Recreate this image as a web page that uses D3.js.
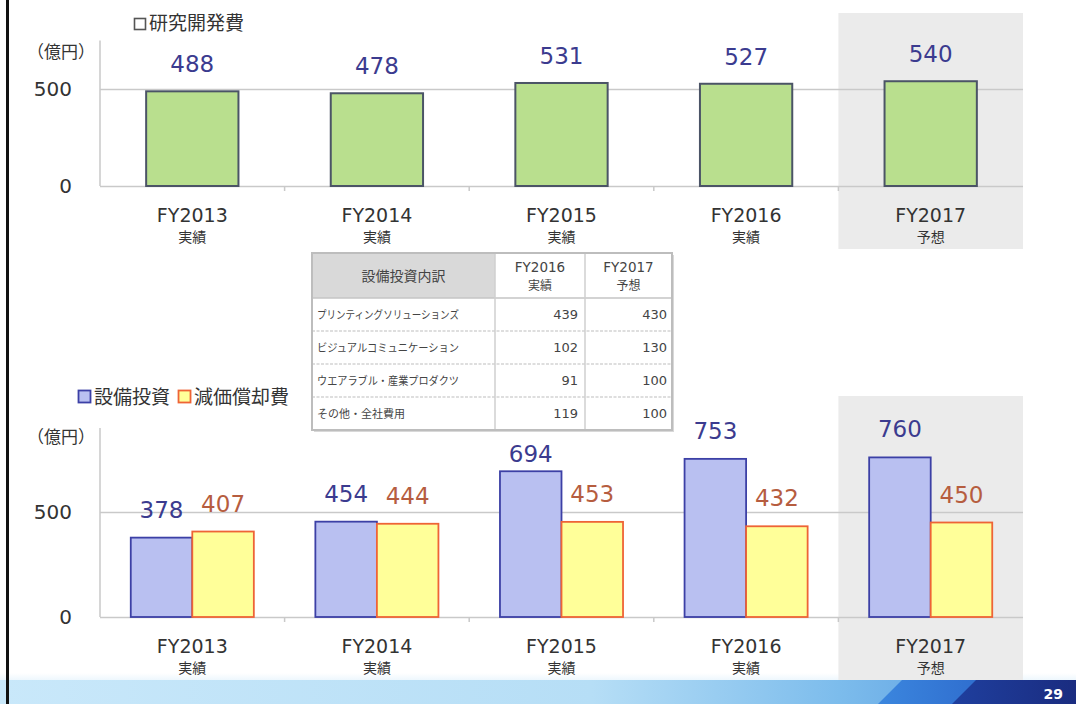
<!DOCTYPE html>
<html><head><meta charset="utf-8">
<script src="https://cdn.jsdelivr.net/npm/d3@7"></script>
<style>body{margin:0;background:#fff}svg{display:block}</style>
</head><body>
<svg id="c" width="1076" height="704"></svg>
<script>
// ---------- data ----------
const categories = ["FY2013","FY2014","FY2015","FY2016","FY2017"];
const periodLabels = ["実績","実績","実績","実績","予想"];
const rdValues = [488,478,531,527,540];
const capexValues = [378,454,694,753,760];
const deprValues = [407,444,453,432,450];
const yTicks = [0,500];
const tableRowNames = ["プリンティングソリューションズ","ビジュアルコミュニケーション","ウエアラブル・産業プロダクツ","その他・全社費用"];
const table2016 = [439,102,91,119];
const table2017 = [430,130,100,100];
const tableHeaders = [["FY2016","実績"],["FY2017","予想"]];
const tableTitle = "設備投資内訳";
const topTitle = "研究開発費";
const legendNames = ["設備投資","減価償却費"];
const unitLabel = "（億円）";
const pageNumber = "29";

// ---------- setup ----------
const LAT = "'DejaVu Sans', Verdana, sans-serif";
const JP = "'Noto Sans CJK JP', 'Noto Sans CJK SC', sans-serif";
const svg = d3.select("#c");
const TXT = "#333";
const GRID = "#c9c9c9";
const plotL = 100, plotR = 1023;

// defs
const defs = svg.append("defs");
const fg = defs.append("linearGradient").attr("id","foot").attr("x1","0").attr("x2","1");
[["0%","#c9e8fa"],["55%","#b6def6"],["78%","#7cbcec"],["100%","#4d8fdc"]].forEach(s=>fg.append("stop").attr("offset",s[0]).attr("stop-color",s[1]));
const fg2 = defs.append("linearGradient").attr("id","foot2").attr("x1","0").attr("x2","1");
[["0%","#3b86de"],["100%","#2457c0"]].forEach(s=>fg2.append("stop").attr("offset",s[0]).attr("stop-color",s[1]));
const fg3 = defs.append("linearGradient").attr("id","foot3").attr("x1","0").attr("x2","1");
[["0%","#1f3f9e"],["100%","#1a2c80"]].forEach(s=>fg3.append("stop").attr("offset",s[0]).attr("stop-color",s[1]));
const fade = defs.append("linearGradient").attr("id","fade").attr("x1","0").attr("x2","0").attr("y1","0").attr("y2","1");
[["0%","#ffffff"],["100%","#eef7fd"]].forEach(s=>fade.append("stop").attr("offset",s[0]).attr("stop-color",s[1]));

// ---------- footer (drawn first) ----------
svg.append("rect").attr("x",0).attr("y",673).attr("width",1076).attr("height",7).attr("fill","url(#fade)");
svg.append("rect").attr("x",0).attr("y",680).attr("width",1076).attr("height",24).attr("fill","url(#foot)");
svg.append("polygon").attr("points","878,704 902,680 1076,680 1076,704").attr("fill","url(#foot2)");
svg.append("polygon").attr("points","952,704 976,680 1076,680 1076,704").attr("fill","url(#foot3)");
svg.append("text").attr("x",1063).attr("y",699).attr("text-anchor","end").attr("font-family",LAT).attr("font-weight","bold").attr("font-size",14).attr("fill","#fff").text(pageNumber);

// ---------- top chart ----------
const xTop = d3.scaleBand().domain(categories).range([plotL, plotR]).paddingInner(0.5).paddingOuter(0.25);
const yTop = d3.scaleLinear().domain([0,500]).range([186,89]);

const lastCat = categories[categories.length-1];
svg.append("rect").attr("x", xTop(lastCat) - xTop.step()*xTop.paddingInner()/2).attr("y",13)
  .attr("width", xTop.step()).attr("height",236).attr("fill","#ebebeb");

const gTopAxis = svg.append("g").attr("transform",`translate(${plotL},0)`)
  .call(d3.axisLeft(yTop).tickValues(yTicks).tickSize(-(plotR-plotL)).tickPadding(28).tickFormat(d3.format("d")));
gTopAxis.select(".domain").remove();
gTopAxis.selectAll("line").attr("stroke",GRID).attr("stroke-width",1.5);
gTopAxis.selectAll("text").attr("font-family",LAT).attr("font-size",20).attr("fill",TXT);
svg.append("line").attr("x1",plotL).attr("x2",plotL).attr("y1",yTop(0)).attr("y2",yTop(750)).attr("stroke",GRID).attr("stroke-width",1.5);
categories.slice(1).forEach(c=>{
  const bx = xTop(c) - xTop.step()*xTop.paddingInner()/2;
  svg.append("line").attr("x1",bx).attr("x2",bx).attr("y1",yTop(0)).attr("y2",yTop(0)+5).attr("stroke",GRID).attr("stroke-width",1.5);
});

svg.append("g").selectAll("rect").data(rdValues).join("rect")
  .attr("x",(d,i)=>xTop(categories[i])).attr("y",d=>yTop(d))
  .attr("width",xTop.bandwidth()).attr("height",d=>yTop(0)-yTop(d))
  .attr("fill","#b9df8e").attr("stroke","#4b5466").attr("stroke-width",2);

svg.append("g").selectAll("text").data(rdValues).join("text")
  .attr("x",(d,i)=>xTop(categories[i])+xTop.bandwidth()/2).attr("y",d=>yTop(d)-19)
  .attr("text-anchor","middle").attr("font-family",LAT).attr("font-size",23).attr("fill","#3b3b8f").text(d=>d);

const gTopCat = svg.append("g");
categories.forEach((c,i)=>{
  const cx = xTop(c)+xTop.bandwidth()/2;
  gTopCat.append("text").attr("x",cx).attr("y",yTop(0)+36).attr("text-anchor","middle")
    .attr("font-family",LAT).attr("font-size",19).attr("fill",TXT).text(c);
  gTopCat.append("text").attr("x",cx).attr("y",yTop(0)+56).attr("text-anchor","middle")
    .attr("font-family",JP).attr("font-size",14).attr("fill",TXT).text(periodLabels[i]);
});

svg.append("rect").attr("x",134.5).attr("y",18.5).attr("width",11).attr("height",11).attr("fill","#fff").attr("stroke","#555").attr("stroke-width",1.6);
svg.append("text").attr("x",149).attr("y",30).attr("font-family",JP).attr("font-size",19).attr("fill",TXT).text(topTitle);
svg.append("text").attr("x",27).attr("y",58).attr("font-family",JP).attr("font-size",17).attr("fill",TXT).text(unitLabel);

// ---------- bottom chart ----------
const xBot = d3.scaleBand().domain(categories).range([plotL, plotR]).paddingInner(1/3).paddingOuter(1/6);
const series = [
  {key:"capex", values:capexValues, fill:"#b9c0f1", stroke:"#3c40a6", text:"#3b3b8f"},
  {key:"depr", values:deprValues, fill:"#ffff99", stroke:"#ee6436", text:"#b65d3f"}
];
const xSub = d3.scaleBand().domain(series.map(s=>s.key)).range([0,xBot.bandwidth()]);
const yBot = d3.scaleLinear().domain([0,500]).range([617,512]);

svg.append("rect").attr("x", xBot(lastCat) - xBot.step()*xBot.paddingInner()/2).attr("y",396)
  .attr("width", xBot.step()).attr("height",284).attr("fill","#ebebeb");

const gBotAxis = svg.append("g").attr("transform",`translate(${plotL},0)`)
  .call(d3.axisLeft(yBot).tickValues(yTicks).tickSize(-(plotR-plotL)).tickPadding(28).tickFormat(d3.format("d")));
gBotAxis.select(".domain").remove();
gBotAxis.selectAll("line").attr("stroke",GRID).attr("stroke-width",1.5);
gBotAxis.selectAll("text").attr("font-family",LAT).attr("font-size",20).attr("fill",TXT);
svg.append("line").attr("x1",plotL).attr("x2",plotL).attr("y1",yBot(0)).attr("y2",yBot(900)).attr("stroke",GRID).attr("stroke-width",1.5);
categories.slice(1).forEach(c=>{
  const bx = xBot(c) - xBot.step()*xBot.paddingInner()/2;
  svg.append("line").attr("x1",bx).attr("x2",bx).attr("y1",yBot(0)).attr("y2",yBot(0)+5).attr("stroke",GRID).attr("stroke-width",1.5);
});

series.forEach(s=>{
  svg.append("g").selectAll("rect").data(s.values).join("rect")
    .attr("x",(d,i)=>xBot(categories[i])+xSub(s.key)).attr("y",d=>yBot(d))
    .attr("width",xSub.bandwidth()).attr("height",d=>yBot(0)-yBot(d))
    .attr("fill",s.fill).attr("stroke",s.stroke).attr("stroke-width",1.8);
});
series.forEach(s=>{
  svg.append("g").selectAll("text").data(s.values).join("text")
    .attr("x",(d,i)=>xBot(categories[i])+xSub(s.key)+xSub.bandwidth()/2)
    .attr("y",(d,i)=>yBot(d) - ((s.key==="capex" && i===2) ? 9 : 20))
    .attr("text-anchor","middle").attr("font-family",LAT).attr("font-size",23).attr("fill",s.text).text(d=>d);
});

const gBotCat = svg.append("g");
categories.forEach((c,i)=>{
  const cx = xBot(c)+xBot.bandwidth()/2;
  gBotCat.append("text").attr("x",cx).attr("y",yBot(0)+36).attr("text-anchor","middle")
    .attr("font-family",LAT).attr("font-size",19).attr("fill",TXT).text(c);
  gBotCat.append("text").attr("x",cx).attr("y",yBot(0)+56).attr("text-anchor","middle")
    .attr("font-family",JP).attr("font-size",14).attr("fill",TXT).text(periodLabels[i]);
});

svg.append("text").attr("x",27).attr("y",443).attr("font-family",JP).attr("font-size",17).attr("fill",TXT).text(unitLabel);

// legend
const leg = svg.append("g");
let lx = 78;
series.forEach((s,i)=>{
  leg.append("rect").attr("x",lx+0.5).attr("y",390.5).attr("width",12).attr("height",12)
    .attr("fill",s.fill).attr("stroke",s.stroke).attr("stroke-width",1.8);
  const t = leg.append("text").attr("x",lx+16).attr("y",404).attr("font-family",JP).attr("font-size",19).attr("fill",TXT).text(legendNames[i]);
  lx += 16 + t.node().getComputedTextLength() + 8;
});

// ---------- table ----------
const tX = [312,495,585,672];
const tTop = 253, tHeadB = 298, tBot = 430;
const yRow = d3.scaleBand().domain(tableRowNames).range([tHeadB,tBot]);
const tg = svg.append("g");
tg.append("rect").attr("x",tX[0]+2).attr("y",tTop+2).attr("width",tX[3]-tX[0]).attr("height",tBot-tTop).attr("fill","#d8d8d8");
tg.append("rect").attr("x",tX[0]).attr("y",tTop).attr("width",tX[3]-tX[0]).attr("height",tBot-tTop).attr("fill","#fff");
tg.append("rect").attr("x",tX[0]).attr("y",tTop).attr("width",tX[1]-tX[0]).attr("height",tHeadB-tTop).attr("fill","#d9d9d9");
tableRowNames.slice(1).forEach(r=>{
  tg.append("line").attr("x1",tX[0]).attr("x2",tX[3]).attr("y1",yRow(r)).attr("y2",yRow(r))
    .attr("stroke","#bdbdbd").attr("stroke-width",1.2).attr("stroke-dasharray","3,1.5");
});
tg.append("line").attr("x1",tX[0]).attr("x2",tX[3]).attr("y1",tHeadB).attr("y2",tHeadB).attr("stroke","#c4c4c4").attr("stroke-width",1.5);
[tX[1],tX[2]].forEach(x=>tg.append("line").attr("x1",x).attr("x2",x).attr("y1",tTop).attr("y2",tBot).attr("stroke","#cfcfcf").attr("stroke-width",1.5));
tg.append("rect").attr("x",tX[0]).attr("y",tTop).attr("width",tX[3]-tX[0]).attr("height",tBot-tTop)
  .attr("fill","none").attr("stroke","#bdbdbd").attr("stroke-width",2);

tg.append("text").attr("x",(tX[0]+tX[1])/2).attr("y",(tTop+tHeadB)/2+5).attr("text-anchor","middle")
  .attr("font-family",JP).attr("font-size",14).attr("fill","#444").text(tableTitle);
tableHeaders.forEach((h,i)=>{
  const cx = (tX[i+1]+tX[i+2])/2;
  tg.append("text").attr("x",cx).attr("y",tTop+19).attr("text-anchor","middle").attr("font-family",LAT).attr("font-size",13.5).attr("fill","#444").text(h[0]);
  tg.append("text").attr("x",cx).attr("y",tTop+37).attr("text-anchor","middle").attr("font-family",JP).attr("font-size",12).attr("fill","#444").text(h[1]);
});
tableRowNames.forEach((r,i)=>{
  const cy = yRow(r)+yRow.bandwidth()/2+4;
  const t = tg.append("text").attr("x",tX[0]+5).attr("y",cy).attr("font-family",JP).attr("font-size",11).attr("fill","#444").text(r);
  const w = t.node().getComputedTextLength();
  if (w > 140) t.attr("textLength",142).attr("lengthAdjust","spacingAndGlyphs");
  tg.append("text").attr("x",tX[2]-7).attr("y",cy).attr("text-anchor","end").attr("font-family",LAT).attr("font-size",13).attr("fill","#444").text(table2016[i]);
  tg.append("text").attr("x",tX[3]-5).attr("y",cy).attr("text-anchor","end").attr("font-family",LAT).attr("font-size",13).attr("fill","#444").text(table2017[i]);
});

// ---------- frame ----------
svg.append("rect").attr("x",6).attr("y",0).attr("width",3).attr("height",704).attr("fill","#111");
</script>
</body></html>
